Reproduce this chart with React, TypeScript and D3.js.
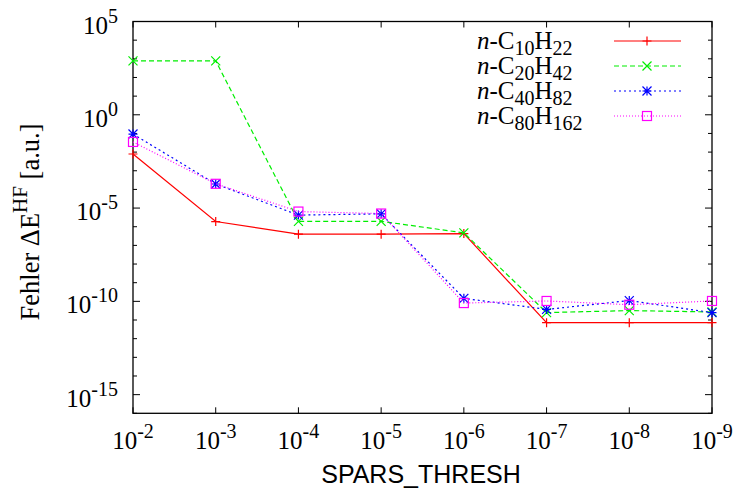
import React from "react";
import * as d3 from "d3";

const thresholds = [1e-2, 1e-3, 1e-4, 1e-5, 1e-6, 1e-7, 1e-8, 1e-9];
const xTickExps = [-2, -3, -4, -5, -6, -7, -8, -9];
const yTickExps = [5, 0, -5, -10, -15];

const c10 = [7.9e-3, 1.9e-6, 4.0e-7, 4.0e-7, 4.3e-7, 7.2e-12, 7.2e-12, 7.2e-12];
const c20 = [776, 776, 1.95e-6, 1.95e-6, 4.7e-7, 2.5e-11, 3.2e-11, 2.7e-11];
const c40 = [0.093, 1.95e-4, 4.2e-6, 4.9e-6, 1.45e-10, 3.7e-11, 1.1e-10, 2.5e-11];
const c80 = [0.035, 2.0e-4, 6.5e-6, 5.1e-6, 8.1e-11, 1.05e-10, 6.6e-11, 1.05e-10];

const seriesNames = [
  { c: "10", h: "22" },
  { c: "20", h: "42" },
  { c: "40", h: "82" },
  { c: "80", h: "162" },
];

const W = 734;
const H = 494;
const L = 133;
const R = 712;
const T = 21.5;
const B = 413.3;

const serif = "'Liberation Serif', 'Times New Roman', serif";
const sans = "'Liberation Sans', Arial, sans-serif";

function Marker({ kind, x, y, color }: { kind: string; x: number; y: number; color: string }) {
  const s = 4.5;
  let d = "";
  if (kind === "plus") d = `M${x - s},${y}H${x + s}M${x},${y - s}V${y + s}`;
  if (kind === "cross") d = `M${x - s},${y - s}L${x + s},${y + s}M${x - s},${y + s}L${x + s},${y - s}`;
  if (kind === "star")
    d = `M${x - s},${y}H${x + s}M${x},${y - s}V${y + s}M${x - s},${y - s}L${x + s},${y + s}M${x - s},${y + s}L${x + s},${y - s}`;
  if (kind === "square") {
    return <rect x={x - s} y={y - s} width={2 * s} height={2 * s} fill="none" stroke={color} strokeWidth={1.2} />;
  }
  return <path d={d} stroke={color} strokeWidth={1.2} fill="none" />;
}

export default function App() {
  const x = d3.scaleLog().domain([1e-2, 1e-9]).range([L, R]);
  const y = d3.scaleLog().domain([1e-16, 1e5]).range([B, T]);

  const series = [
    { data: c10, color: "#ff0000", dash: "none", marker: "plus" },
    { data: c20, color: "#00ee00", dash: "5,3", marker: "cross" },
    { data: c40, color: "#0000ff", dash: "2,3", marker: "star" },
    { data: c80, color: "#ff00ff", dash: "1,2", marker: "square" },
  ];

  const line = d3
    .line<number>()
    .x((_, i) => x(thresholds[i]))
    .y((d) => y(d));

  const yDecades = d3.range(-16, 6);

  return (
    <svg
      width={W}
      height={H}
      style={{ position: "absolute", left: 0, top: 0, background: "#fff" }}
      xmlns="http://www.w3.org/2000/svg"
    >
      <rect width={W} height={H} fill="#fff" />
      {yDecades.map((e) => {
        const yy = y(Math.pow(10, e));
        const major = e % 5 === 0;
        const len = major ? 7 : 4;
        return (
          <g key={"yt" + e}>
            <line x1={L} x2={L + len} y1={yy} y2={yy} stroke="#000" strokeWidth={1} />
            <line x1={R} x2={R - len} y1={yy} y2={yy} stroke="#000" strokeWidth={1} />
          </g>
        );
      })}
      {thresholds.map((t, i) => (
        <g key={"xt" + i}>
          <line x1={x(t)} x2={x(t)} y1={B} y2={B - 6} stroke="#000" strokeWidth={1} />
          <line x1={x(t)} x2={x(t)} y1={T} y2={T + 6} stroke="#000" strokeWidth={1} />
        </g>
      ))}
      <rect x={L} y={T} width={R - L} height={B - T} fill="none" stroke="#000" strokeWidth={1.3} />

      {yTickExps.map((e) => (
        <text
          key={"yl" + e}
          x={118}
          y={y(Math.pow(10, e)) + 12}
          textAnchor="end"
          fontFamily={serif}
          fontSize={25}
          fill="#000"
        >
          10
          <tspan dy={-11} fontSize={20}>
            {String(e)}
          </tspan>
        </text>
      ))}
      {xTickExps.map((e, i) => (
        <text
          key={"xl" + e}
          x={x(thresholds[i])}
          y={449}
          textAnchor="middle"
          fontFamily={serif}
          fontSize={25}
          fill="#000"
        >
          10
          <tspan dy={-11} fontSize={20}>
            {String(e)}
          </tspan>
        </text>
      ))}

      <text x={421} y={483} textAnchor="middle" fontFamily={sans} fontSize={25} fill="#000">
        SPARS_THRESH
      </text>
      <text
        transform={`translate(39, 222) rotate(-90)`}
        textAnchor="middle"
        fontFamily={serif}
        fontSize={26.5}
        fill="#000"
      >
        Fehler ΔE
        <tspan dy={-12} fontSize={21}>
          HF
        </tspan>
        <tspan dy={12}> [a.u.]</tspan>
      </text>

      {series.map((s, si) => (
        <g key={"s" + si}>
          <path
            d={line(s.data) || ""}
            fill="none"
            stroke={s.color}
            strokeWidth={1.2}
            strokeDasharray={s.dash}
          />
          {s.data.map((v, i) => (
            <Marker key={i} kind={s.marker} x={x(thresholds[i])} y={y(v)} color={s.color} />
          ))}
        </g>
      ))}

      {series.map((s, si) => {
        const ly = 41 + 25 * si;
        const nm = seriesNames[si];
        return (
          <g key={"lg" + si}>
            <text x={477} y={ly + 8} fontFamily={serif} fontSize={25} fill="#000">
              <tspan fontStyle="italic">n</tspan>
              -C
              <tspan dy={6} fontSize={20}>
                {nm.c}
              </tspan>
              <tspan dy={-6}>H</tspan>
              <tspan dy={6} fontSize={20}>
                {nm.h}
              </tspan>
            </text>
            <line
              x1={614}
              x2={681}
              y1={ly}
              y2={ly}
              stroke={s.color}
              strokeWidth={1.2}
              strokeDasharray={s.dash}
            />
            <Marker kind={s.marker} x={647} y={ly} color={s.color} />
          </g>
        );
      })}
    </svg>
  );
}
